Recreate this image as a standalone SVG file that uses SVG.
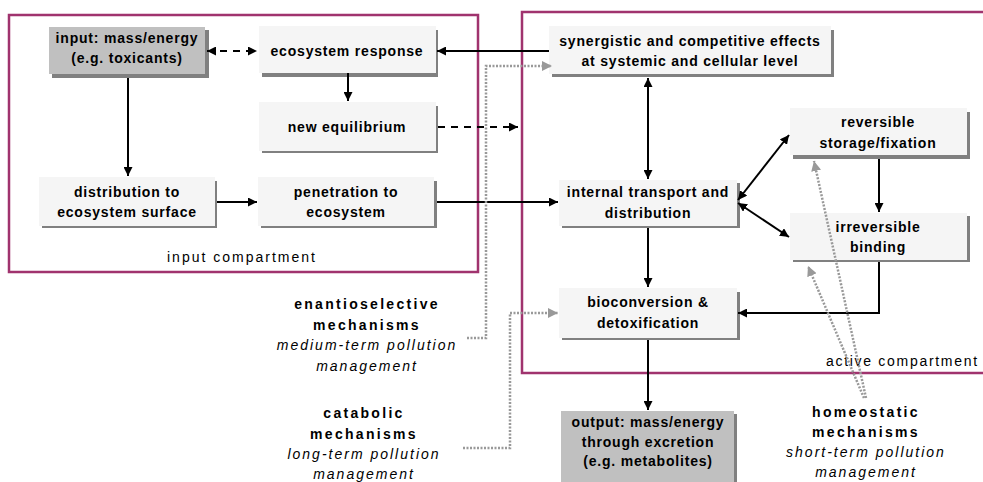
<svg xmlns="http://www.w3.org/2000/svg" width="983" height="482" viewBox="0 0 983 482">
<defs>
<marker id="ah" viewBox="0 0 10 10" refX="10" refY="5" markerWidth="9" markerHeight="9" markerUnits="userSpaceOnUse" orient="auto-start-reverse"><path d="M0,0 L10,5 L0,10 z" fill="#000"/></marker>
<marker id="ag" viewBox="0 0 10 10" refX="10" refY="5" markerWidth="10" markerHeight="10" markerUnits="userSpaceOnUse" orient="auto"><path d="M0,0 L10,5 L0,10 z" fill="#999"/></marker>
</defs>
<style>
.sh{fill:#808080}
.bx{fill:#F5F5F5}
.gx{fill:#C0C0C0}
.t{font-family:"Liberation Sans",Arial,sans-serif;font-size:14px;font-weight:bold;fill:#000;text-anchor:middle;letter-spacing:0.8px}
.comp{fill:none;stroke:#A0336E;stroke-width:2.5}
.ct{font-family:"Liberation Sans",Arial,sans-serif;font-size:14px;fill:#000;letter-spacing:2px}
.lb{font-family:"Liberation Sans",Arial,sans-serif;font-size:14px;font-weight:bold;fill:#000;text-anchor:middle;letter-spacing:2.3px}
.li{font-family:"Liberation Sans",Arial,sans-serif;font-size:14px;font-style:italic;fill:#000;text-anchor:middle;letter-spacing:2px}
.c{fill:none;stroke:#000;stroke-width:2}
.d{fill:none;stroke:#000;stroke-width:2;stroke-dasharray:7,6}
.g{fill:none;stroke:#999;stroke-width:2.5;stroke-dasharray:2,1.5}
</style>
<rect width="983" height="482" fill="#fff"/>
<g id="compartments">
<rect class="comp" x="9" y="15" width="469" height="257"/>
<text class="ct" x="167" y="262">input compartment</text>
<rect class="comp" x="522" y="12" width="470" height="361"/>
<text class="ct" x="826" y="366" style="letter-spacing:1.7px">active compartment</text>
</g>
<g id="n-input"><rect class="sh" x="52" y="30" width="157" height="48"/><rect class="gx" x="49" y="27" width="156" height="47"/><text class="t" x="127" y="43">input: mass/energy</text><text class="t" x="127" y="63">(e.g. toxicants)</text></g>
<g id="n-ecoresp"><rect class="sh" x="262" y="30" width="176" height="47"/><rect class="bx" x="259" y="26" width="177" height="47"/><text class="t" x="347" y="56">ecosystem response</text></g>
<g id="n-neweq"><rect class="sh" x="262" y="106" width="176" height="47"/><rect class="bx" x="259" y="102" width="177" height="49"/><text class="t" x="347" y="132">new equilibrium</text></g>
<g id="n-distr"><rect class="sh" x="42" y="181" width="175" height="47"/><rect class="bx" x="39" y="177" width="176" height="49"/><text class="t" x="127" y="197">distribution to</text><text class="t" x="127" y="217">ecosystem surface</text></g>
<g id="n-penet"><rect class="sh" x="261" y="181" width="176" height="47"/><rect class="bx" x="258" y="177" width="176" height="49"/><text class="t" x="346" y="197">penetration to</text><text class="t" x="346" y="217">ecosystem</text></g>
<g id="n-syn"><rect class="sh" x="552" y="30" width="282" height="47"/><rect class="bx" x="549" y="26" width="282" height="48"/><text class="t" x="690" y="46">synergistic and competitive effects</text><text class="t" x="690" y="66">at systemic and cellular level</text></g>
<g id="n-internal"><rect class="sh" x="562" y="183" width="178" height="45"/><rect class="bx" x="559" y="180" width="178" height="46"/><text class="t" x="648" y="197">internal transport and</text><text class="t" x="648" y="218">distribution</text></g>
<g id="n-rev"><rect class="sh" x="793" y="112" width="177" height="47"/><rect class="bx" x="790" y="108" width="177" height="47"/><text class="t" x="878" y="127">reversible</text><text class="t" x="878" y="148">storage/fixation</text></g>
<g id="n-irrev"><rect class="sh" x="793" y="216" width="177" height="46"/><rect class="bx" x="790" y="213" width="177" height="47"/><text class="t" x="878" y="232">irreversible</text><text class="t" x="878" y="252">binding</text></g>
<g id="n-bio"><rect class="sh" x="562" y="292" width="178" height="48"/><rect class="bx" x="559" y="288" width="178" height="50"/><text class="t" x="648" y="307">bioconversion &amp;</text><text class="t" x="648" y="328">detoxification</text></g>
<g id="n-output"><rect class="sh" x="564" y="414" width="173" height="72"/><rect class="gx" x="561" y="411" width="173" height="75"/><text class="t" x="648" y="427">output: mass/energy</text><text class="t" x="648" y="447">through excretion</text><text class="t" x="648" y="466">(e.g. metabolites)</text></g>
<g id="l-enantio"><text class="lb" x="367" y="309">enantioselective</text><text class="lb" x="367" y="330">mechanisms</text><text class="li" x="367" y="350">medium-term pollution</text><text class="li" x="367" y="371">management</text></g>
<g id="l-catab"><text class="lb" x="364" y="418">catabolic</text><text class="lb" x="364" y="439">mechanisms</text><text class="li" x="364" y="459">long-term pollution</text><text class="li" x="364" y="479">management</text></g>
<g id="l-homeo"><text class="lb" x="866" y="417">homeostatic</text><text class="lb" x="866" y="437">mechanisms</text><text class="li" x="866" y="457">short-term pollution</text><text class="li" x="866" y="477">management</text></g>
<g id="connectors">
<path class="d" d="M207,51 L257,51" marker-start="url(#ah)" marker-end="url(#ah)"/>
<path class="c" d="M549,51 L437,51" marker-end="url(#ah)"/>
<path class="c" d="M348,73 L348,101" marker-end="url(#ah)"/>
<path class="d" d="M438,127 L518,127" marker-end="url(#ah)"/>
<path class="c" d="M128,78 L128,176" marker-end="url(#ah)"/>
<path class="c" d="M217,202 L257,202" marker-end="url(#ah)"/>
<path class="c" d="M437,202 L558,202" marker-end="url(#ah)"/>
<path class="c" d="M648,78 L648,179" marker-start="url(#ah)" marker-end="url(#ah)"/>
<path class="c" d="M738,200 L789,135" marker-start="url(#ah)" marker-end="url(#ah)"/>
<path class="c" d="M738,203 L789,237" marker-start="url(#ah)" marker-end="url(#ah)"/>
<path class="c" d="M879,159 L879,212" marker-end="url(#ah)"/>
<path class="c" d="M879,262 L879,313 L738,313" marker-end="url(#ah)"/>
<path class="c" d="M648,228 L648,287" marker-end="url(#ah)"/>
<path class="c" d="M648,340 L648,410" marker-end="url(#ah)"/>
<path class="g" d="M467,338 L486,338 L486,66 L552,66" marker-end="url(#ag)"/>
<path class="g" d="M463,448 L510,448 L510,313 L558,313" marker-end="url(#ag)"/>
<path class="g" d="M866,398 L814,161" marker-end="url(#ag)"/>
<path class="g" d="M864,398 L808,266" marker-end="url(#ag)"/>
</g>
</svg>
